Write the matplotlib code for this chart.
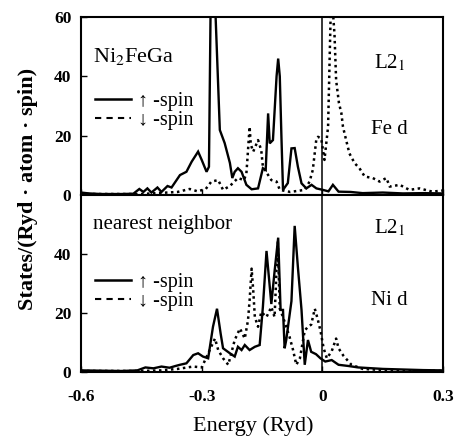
import matplotlib.pyplot as plt
from matplotlib.lines import Line2D

# Fe d, up spin (solid)
fe_up_e = [-0.60, -0.58, -0.55, -0.50, -0.47, -0.455, -0.445, -0.435, -0.425, -0.41, -0.40,
           -0.385, -0.375, -0.365, -0.354, -0.338, -0.325, -0.309, -0.300, -0.288, -0.282,
           -0.278, -0.272, -0.266, -0.255, -0.243, -0.230, -0.224, -0.218, -0.210, -0.201,
           -0.189, -0.176, -0.160, -0.148, -0.141, -0.135, -0.131, -0.123, -0.114, -0.110,
           -0.106, -0.102, -0.098, -0.086, -0.077, -0.069, -0.061, -0.052, -0.040, -0.027,
           -0.015, 0.001, 0.015, 0.026, 0.040, 0.07, 0.10, 0.15, 0.20, 0.25, 0.30]
fe_up = [0.8, 0.5, 0.3, 0.3, 0.4, 2.0, 1.0, 2.2, 0.8, 2.5, 1.0,
         3.0, 2.5, 4.5, 6.7, 7.8, 11.2, 14.6, 11.8, 7.8, 9.5,
         62, 72, 62, 21.9, 17.5, 10.8, 5.7, 7.8, 9.0, 7.8,
         3.4, 1.9, 2.2, 9.0, 8.4, 27.5, 17.4, 18.5, 40, 46,
         40, 20, 1.7, 4.0, 15.7, 15.8, 9.5, 3.9, 2.2, 3.4,
         2.2, 1.7, 1.2, 3.4, 1.1, 1.0, 0.6, 0.8, 0.5, 0.6, 0.5]

# Fe d, down spin (dotted)
fe_dn_e = [-0.60, -0.45, -0.36, -0.33, -0.31, -0.29, -0.276, -0.259, -0.247, -0.23, -0.210,
           -0.195, -0.189, -0.187, -0.181, -0.178, -0.172, -0.160, -0.152, -0.148, -0.127,
           -0.114, -0.106, -0.080, -0.044, -0.032, -0.024, -0.015, -0.011, -0.003, 0.005,
           0.014, 0.022, 0.030, 0.034, 0.041, 0.047, 0.051, 0.058, 0.067, 0.080, 0.092,
           0.105, 0.125, 0.142, 0.159, 0.167, 0.192, 0.216, 0.241, 0.273, 0.30]
fe_dn = [0.3, 0.3, 1.0, 2.0, 1.2, 2.0, 4.5, 5.0, 1.7, 3.0, 5.7,
         5.0, 7.3, 11, 23, 17, 14.6, 18.5, 15.0, 9.5, 5.0,
         4.5, 1.7, 1.0, 1.7, 4.5, 8.4, 19, 19.6, 19, 11.8,
         23, 70, 54, 38.7, 31, 27.6, 23, 19, 14, 10.7, 9.0,
         6.2, 5.7, 4.5, 5.7, 2.8, 3.4, 1.7, 2.2, 1.1, 1.5]

# Ni d, up spin (solid)
ni_up_e = [-0.60, -0.55, -0.50, -0.46, -0.44, -0.42, -0.40, -0.38, -0.365, -0.354, -0.338,
           -0.321, -0.309, -0.297, -0.284, -0.272, -0.262, -0.253, -0.247, -0.230, -0.218,
           -0.210, -0.201, -0.193, -0.181, -0.168, -0.156, -0.148, -0.139, -0.127, -0.119,
           -0.110, -0.104, -0.098, -0.094, -0.090, -0.077, -0.069, -0.061, -0.052, -0.044,
           -0.036, -0.028, -0.016, -0.005, 0.007, 0.023, 0.040, 0.064, 0.089, 0.15, 0.20,
           0.25, 0.30]
ni_up = [0.5, 0.4, 0.3, 0.5, 1.5, 1.2, 1.8, 1.4, 2.0, 2.4, 2.9,
         5.7, 6.3, 5.2, 4.6, 15.3, 21.4, 13.0, 8.0, 6.3, 5.2,
         8.5, 7.4, 9.1, 7.4, 8.5, 9.1, 22, 41, 23, 34,
         45.5, 21, 21, 8.0, 10.8, 24, 49.5, 35.5, 21, 2.4,
         10.8, 6.8, 6.0, 4.6, 3.5, 4.0, 2.4, 2.0, 1.5, 1.0, 0.8,
         0.6, 0.5]

# Ni d, down spin (dotted)
ni_dn_e = [-0.60, -0.45, -0.40, -0.36, -0.321, -0.30, -0.267, -0.259, -0.247, -0.234, -0.218,
           -0.205, -0.193, -0.185, -0.181, -0.176, -0.172, -0.168, -0.160, -0.152, -0.139,
           -0.127, -0.119, -0.111, -0.106, -0.098, -0.090, -0.082, -0.073, -0.065, -0.056,
           -0.044, -0.036, -0.028, -0.019, -0.012, -0.005, 0.003, 0.011, 0.023, 0.034,
           0.040, 0.052, 0.072, 0.10, 0.15, 0.20, 0.25, 0.30]
ni_dn = [0.3, 0.3, 0.5, 1.0, 1.8, 1.5, 11.3, 7.4, 4.6, 2.4, 10.8,
         14.7, 11.3, 17.5, 24.2, 35, 27.6, 18.6, 15.3, 20.3, 18.6,
         22, 18.6, 44, 21.4, 18.6, 15.3, 12, 7.4, 2.4, 4.6,
         14, 15.3, 16, 21.4, 18, 14, 8.0, 4.6, 7.0, 11.3,
         8.0, 5.5, 2.4, 1.0, 0.6, 0.5, 0.4, 0.3]

xticks = [-0.6, -0.3, 0, 0.3]
xtick_labels = ["-0.6", "-0.3", "0", "0.3"]

serif = ["Liberation Serif", "DejaVu Serif"]
plt.rcParams["font.family"] = serif
plt.rcParams["mathtext.fontset"] = "stix"

fig = plt.figure(figsize=(4.55, 4.38), dpi=100)
ax_top = fig.add_axes([0.178, 0.555, 0.796, 0.406])
ax_bot = fig.add_axes([0.178, 0.151, 0.796, 0.404])

solid_kw = dict(color="black", lw=1.7, solid_joinstyle="miter")
dot_kw = dict(color="black", lw=1.8, linestyle=(0, (1, 1.4)))

ax_top.plot(fe_up_e, fe_up, **solid_kw)
ax_top.plot(fe_dn_e, fe_dn, **dot_kw)
ax_bot.plot(ni_up_e, ni_up, **solid_kw)
ax_bot.plot(ni_dn_e, ni_dn, **dot_kw)

for ax in (ax_top, ax_bot):
    ax.set_xlim(-0.6, 0.3)
    ax.set_ylim(0, 60)
    ax.axvline(0, color="black", lw=1.1)
    for s in ax.spines.values():
        s.set_linewidth(1.5)
    ax.tick_params(direction="in", length=4, width=1.0, labelsize=12.5, pad=7)
    ax.tick_params(axis="x", pad=12)
    ax.set_xticks(xticks)

ax_top.set_yticks([0, 20, 40, 60])
ax_top.set_yticklabels(["0", "20", "40", "60"], fontweight="bold")
ax_top.tick_params(axis="x", labelbottom=False)
ax_bot.set_yticks([0, 20, 40])
ax_bot.set_yticklabels(["0", "20", "40"], fontweight="bold")
ax_bot.set_xticklabels(xtick_labels, fontweight="bold")

handles = [Line2D([], [], color="black", lw=1.8),
           Line2D([], [], color="black", lw=1.5, linestyle=(0, (3, 2.5)))]
labels = ["↑ -spin", "↓ -spin"]
for ax, y in ((ax_top, 0.66), (ax_bot, 0.64)):
    ax.legend(handles, labels, loc="upper left", bbox_to_anchor=(0.0, y),
              frameon=False, fontsize=14.5, handlelength=1.8, handletextpad=0.35,
              labelspacing=0.0, borderaxespad=0.3)

ax_top.text(0.032, 0.745, r"Ni$_2$FeGa", transform=ax_top.transAxes, fontsize=16)
ax_top.text(0.81, 0.71, r"L2$_1$", transform=ax_top.transAxes, fontsize=15)
ax_top.text(0.80, 0.34, "Fe d", transform=ax_top.transAxes, fontsize=15)
ax_bot.text(0.032, 0.81, "nearest neighbor", transform=ax_bot.transAxes, fontsize=15)
ax_bot.text(0.81, 0.785, r"L2$_1$", transform=ax_bot.transAxes, fontsize=15)
ax_bot.text(0.80, 0.38, "Ni d", transform=ax_bot.transAxes, fontsize=15)

fig.text(0.062, 0.568, "States/(Ryd \u00b7 atom \u00b7 spin)", rotation=90, ha="center",
         va="center", fontsize=16, fontweight="bold")
fig.text(0.556, 0.028, "Energy (Ryd)", ha="center", va="center", fontsize=16)

fig.savefig("out.png", dpi=100)
